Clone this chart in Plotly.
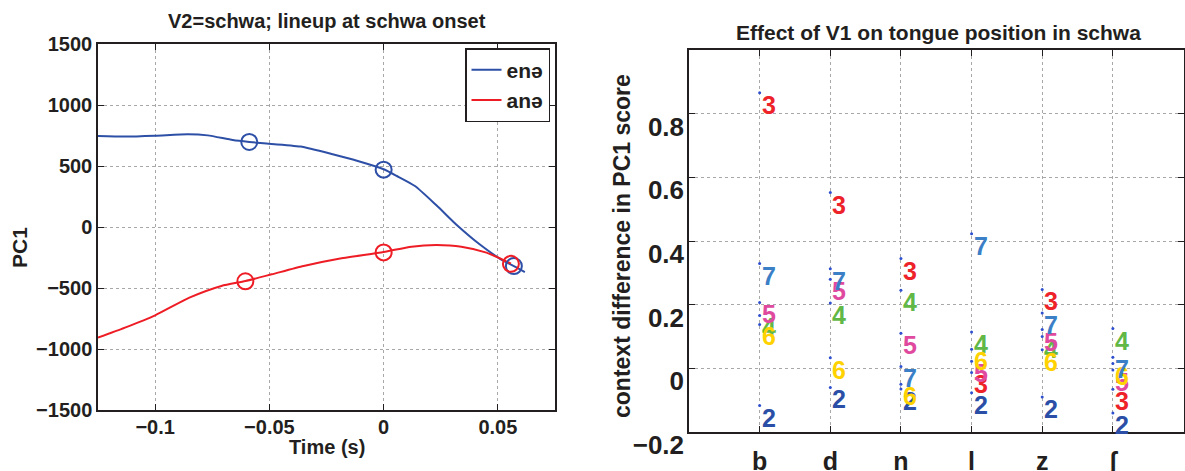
import plotly.graph_objects as go

# ---------------- data: left panel ----------------
ene_time = [-0.125, -0.1132, -0.1, -0.0857, -0.077, -0.066, -0.0588, -0.0525, -0.0364, -0.0223,
            -0.0113, 0.0, 0.0058, 0.0137, 0.0231, 0.0325, 0.042, 0.0513, 0.057, 0.0618]
ene_pc1 = [746, 741, 748, 760, 751, 713, 697, 686, 659, 596,
           541, 473, 418, 336, 178, 8, -142, -265, -320, -369]
ane_time = [-0.125, -0.1132, -0.1, -0.085, -0.071, -0.0605, -0.049, -0.035, -0.019, 0.0,
            0.0122, 0.0231, 0.034, 0.045, 0.0557]
ane_pc1 = [-907, -825, -724, -579, -483, -443, -388, -320, -259, -205,
           -161, -148, -161, -210, -300]
ene_mark_time = [-0.0588, 0.0, 0.057]
ene_mark_pc1 = [697, 470, -320]
ane_mark_time = [-0.0605, 0.0, 0.0557]
ane_mark_pc1 = [-445, -208, -302]

left_xticks = [-0.1, -0.05, 0, 0.05]
left_xticktext = ["\u22120.1", "\u22120.05", "0", "0.05"]
left_yticks = [-1500, -1000, -500, 0, 500, 1000, 1500]
left_yticktext = ["\u22121500", "\u22121000", "\u2212500", "0", "500", "1000", "1500"]

# ---------------- data: right panel ----------------
consonants = ["b", "d", "n", "l", "z", "\u0283"]
digit_labels = ["2", "3", "4", "5", "6", "7"]
vals_2 = [-0.117, -0.060, -0.065, -0.077, -0.090, -0.140]
vals_3 = [0.866, 0.552, 0.345, -0.013, 0.248, -0.066]
vals_4 = [0.166, 0.205, 0.245, 0.114, 0.100, 0.125]
vals_5 = [0.207, 0.280, 0.110, 0.022, 0.122, -0.005]
vals_6 = [0.138, 0.033, -0.050, 0.060, 0.058, 0.015]
vals_7 = [0.329, 0.313, 0.006, 0.423, 0.174, 0.035]
digit_values = [vals_2, vals_3, vals_4, vals_5, vals_6, vals_7]
digit_colors = ["#2b4fa6", "#ee2229", "#62b846", "#e04a9e", "#ffd200", "#3b80c6"]

right_yticks = [-0.2, 0, 0.2, 0.4, 0.6, 0.8]
right_yticktext = ["\u22120.2", "0", "0.2", "0.4", "0.6", "0.8"]

W, H = 1185, 471
def px(x): return x / W
def py(y): return 1 - y / H

FONT = "Liberation Sans, Arial, Helvetica, sans-serif"
TXT = "#231f20"
BLUE = "#2d4fa6"
RED = "#ee1d25"

fig = go.Figure()

fig.add_trace(go.Scatter(x=ene_time, y=ene_pc1, mode="lines", name="en\u0259",
                         line=dict(color=BLUE, width=2, shape="spline", smoothing=0.6),
                         xaxis="x", yaxis="y"))
fig.add_trace(go.Scatter(x=ane_time, y=ane_pc1, mode="lines", name="an\u0259",
                         line=dict(color=RED, width=2, shape="spline", smoothing=0.6),
                         xaxis="x", yaxis="y"))
fig.add_trace(go.Scatter(x=ene_mark_time, y=ene_mark_pc1, mode="markers", showlegend=False,
                         marker=dict(symbol="circle-open", size=16, color=BLUE, line=dict(width=2, color=BLUE)),
                         xaxis="x", yaxis="y"))
fig.add_trace(go.Scatter(x=ane_mark_time, y=ane_mark_pc1, mode="markers", showlegend=False,
                         marker=dict(symbol="circle-open", size=16, color=RED, line=dict(width=2, color=RED)),
                         xaxis="x", yaxis="y"))

# right panel: small dots at data values
cat_pos = list(range(1, len(consonants) + 1))
dot_x, dot_y = [], []
for vals in digit_values:
    dot_x += cat_pos
    dot_y += vals
fig.add_trace(go.Scatter(x=dot_x, y=dot_y, mode="markers", showlegend=False,
                         marker=dict(size=3, color="#2d4fd0"), xaxis="x2", yaxis="y2"))

annotations = []
for lab, vals, col in zip(digit_labels, digit_values, digit_colors):
    for xp, v in zip(cat_pos, vals):
        annotations.append(dict(x=xp, y=v, xref="x2", yref="y2", text=lab, showarrow=False,
                                xanchor="left", yanchor="middle", xshift=0, yshift=-12,
                                font=dict(family=FONT, size=25, color=col, weight="bold")))

# titles and axis labels
annotations += [
    dict(x=px(327), y=py(21), xref="paper", yref="paper", text="V2=schwa; lineup at schwa onset",
         showarrow=False, xanchor="center", yanchor="middle",
         font=dict(family=FONT, size=20, color=TXT, weight="bold")),
    dict(x=px(327), y=py(447), xref="paper", yref="paper", text="Time (s)",
         showarrow=False, xanchor="center", yanchor="middle",
         font=dict(family=FONT, size=20, color=TXT, weight="bold")),
    dict(x=px(19), y=py(248), xref="paper", yref="paper", text="PC1", textangle=-90,
         showarrow=False, xanchor="center", yanchor="middle",
         font=dict(family=FONT, size=21, color=TXT, weight="bold")),
    dict(x=px(938), y=py(33), xref="paper", yref="paper", text="Effect of V1 on tongue position in schwa",
         showarrow=False, xanchor="center", yanchor="middle",
         font=dict(family=FONT, size=21, color=TXT, weight="bold")),
    dict(x=px(622), y=py(246), xref="paper", yref="paper", text="context difference in PC1 score",
         textangle=-90, showarrow=False, xanchor="center", yanchor="middle",
         font=dict(family=FONT, size=23, color=TXT, weight="bold")),
]

axis_common = dict(showline=True, linecolor="#231f20", linewidth=1.5, mirror="ticks",
                   ticks="inside", ticklen=6, tickcolor="#231f20", tickwidth=1,
                   showgrid=True, gridcolor="#a8a8a8", griddash="dot", gridwidth=1,
                   zeroline=False, automargin=False)

fig.update_layout(
    width=W, height=H, margin=dict(l=0, r=0, t=0, b=0, autoexpand=False),
    paper_bgcolor="white", plot_bgcolor="white",
    font=dict(family=FONT, color=TXT, weight="bold"),
    showlegend=True,
    legend=dict(x=px(550), y=py(48), xanchor="right", yanchor="top",
                bgcolor="white", bordercolor="#231f20", borderwidth=1.5,
                font=dict(family=FONT, size=21, color=TXT, weight="bold"),
                itemwidth=30, tracegroupgap=0),
    xaxis=dict(domain=[px(98), px(555)], range=[-0.125, 0.075], anchor="y",
               tickvals=left_xticks, ticktext=left_xticktext, ticklabelstandoff=-2,
               tickfont=dict(size=20, family=FONT, color=TXT, weight="bold"), **axis_common),
    yaxis=dict(domain=[py(410), py(44)], range=[-1500, 1500], anchor="x",
               tickvals=left_yticks, ticktext=left_yticktext,
               tickfont=dict(size=20, family=FONT, color=TXT, weight="bold"), **axis_common),
    xaxis2=dict(domain=[px(689), px(1183.5)], range=[0, 7], anchor="y2",
                tickvals=cat_pos, ticktext=consonants, ticklabelstandoff=6,
                tickfont=dict(size=25, family=FONT, color=TXT, weight="bold"), **axis_common),
    yaxis2=dict(domain=[py(432), py(50)], range=[-0.2, 1.0], anchor="x2",
                tickvals=right_yticks, ticktext=right_yticktext, ticklabelshift=13,
                ticklabelstandoff=-2,
                tickfont=dict(size=26, family=FONT, color=TXT, weight="bold"), **axis_common),
    annotations=annotations,
)

fig.write_html("out.html")
